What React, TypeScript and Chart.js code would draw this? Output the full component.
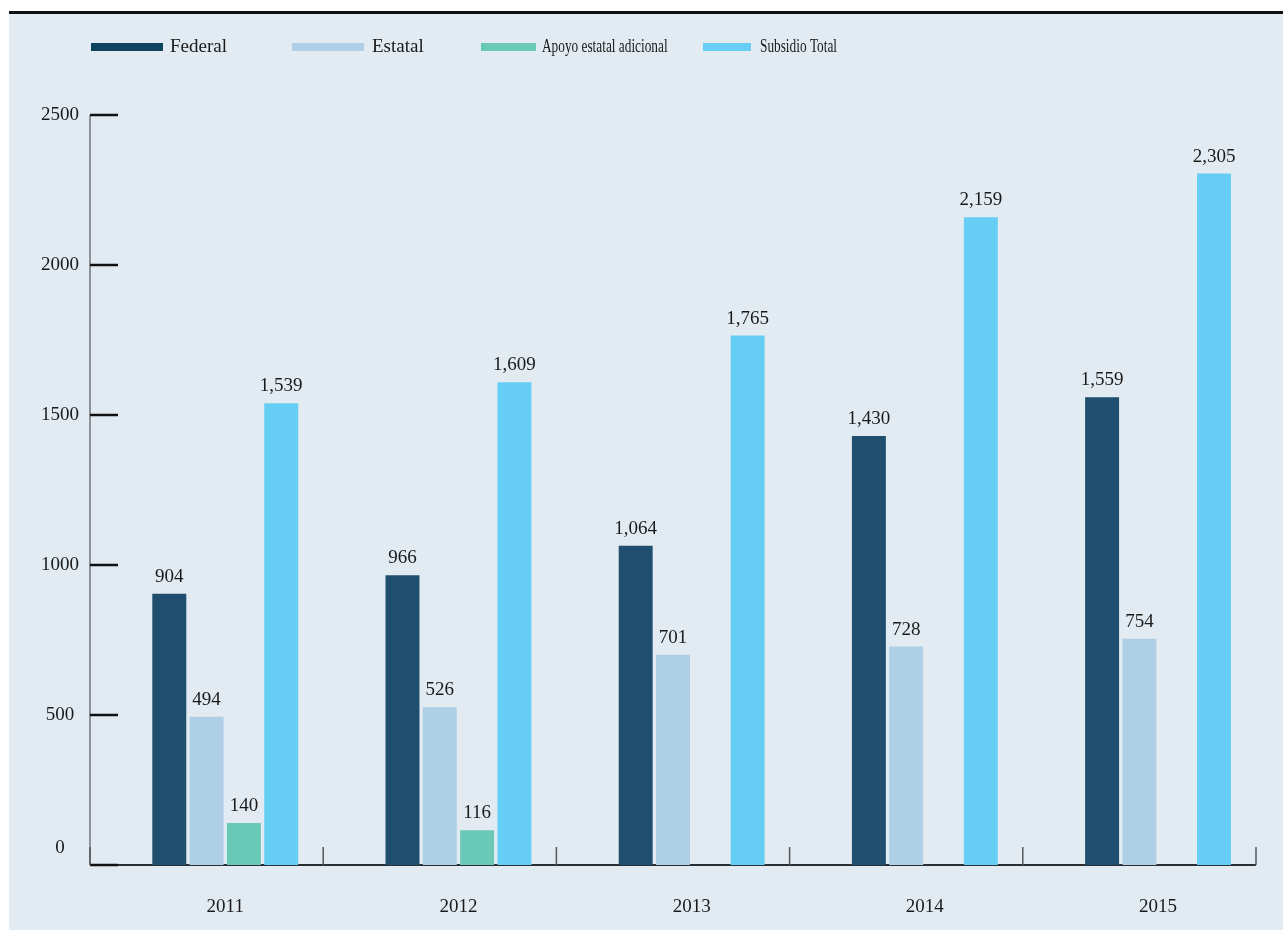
import React, { useEffect, useRef } from "react";
import { Chart, registerables } from "chart.js";

Chart.register(...registerables);

const categories = ["2011", "2012", "2013", "2014", "2015"];
const federal = [904, 966, 1064, 1430, 1559];
const estatal = [494, 526, 701, 728, 754];
const apoyo = [140, 116, null, null, null];
const subsidioTotal = [1539, 1609, 1765, 2159, 2305];
const seriesLabels = ["Federal", "Estatal", "Apoyo estatal adicional", "Subsidio Total"];
const barColors = ["#1f4e6e", "#aecfe6", "#69c8b6", "#66cef5"];
const legendColors = ["#0e4261", "#aecfe6", "#69c8b6", "#66cef5"];
const yTicks = [0, 500, 1000, 1500, 2000, 2500];

const FONT = '"Liberation Serif", "DejaVu Serif", serif';

const fmt = (v: number) => v.toLocaleString("en-US");

const drawPlugin = {
  id: "customDraw",
  beforeDraw(chart: any) {
    const { ctx, width, height } = chart;
    ctx.save();
    ctx.fillStyle = "#ffffff";
    ctx.fillRect(0, 0, width, height);
    ctx.fillStyle = "#e2ebf1";
    ctx.fillRect(9, 14, width - 9, 916);
    ctx.fillStyle = "#111111";
    ctx.fillRect(9, 11, width - 9, 3);
    ctx.restore();
  },
  beforeDatasetsDraw(chart: any) {
    const { ctx, chartArea } = chart;
    const y = chart.scales.y;
    const x = chart.scales.x;
    ctx.save();
    // y axis line
    ctx.strokeStyle = "#6f7478";
    ctx.lineWidth = 1.5;
    ctx.beginPath();
    ctx.moveTo(chartArea.left, y.getPixelForValue(2500));
    ctx.lineTo(chartArea.left, chartArea.bottom);
    ctx.stroke();
    // x axis line
    ctx.strokeStyle = "#2b2f33";
    ctx.lineWidth = 2;
    ctx.beginPath();
    ctx.moveTo(chartArea.left, chartArea.bottom);
    ctx.lineTo(chartArea.right, chartArea.bottom);
    ctx.stroke();
    // y ticks (inside)
    ctx.strokeStyle = "#111111";
    ctx.lineWidth = 2.5;
    yTicks.forEach((t) => {
      const py = y.getPixelForValue(t);
      ctx.beginPath();
      ctx.moveTo(chartArea.left, py);
      ctx.lineTo(chartArea.left + 28, py);
      ctx.stroke();
    });
    // category boundary ticks
    ctx.strokeStyle = "#55595c";
    ctx.lineWidth = 1.5;
    const step = (chartArea.right - chartArea.left) / categories.length;
    for (let i = 0; i <= categories.length; i++) {
      const px = chartArea.left + step * i;
      ctx.beginPath();
      ctx.moveTo(px, chartArea.bottom - 18);
      ctx.lineTo(px, chartArea.bottom);
      ctx.stroke();
    }
    ctx.restore();
  },
  afterDatasetsDraw(chart: any) {
    const { ctx, chartArea } = chart;
    const y = chart.scales.y;
    ctx.save();
    ctx.fillStyle = "#1a1a1a";
    ctx.font = `19px ${FONT}`;
    ctx.textAlign = "center";
    ctx.textBaseline = "alphabetic";
    // data labels
    chart.data.datasets.forEach((ds: any, di: number) => {
      if (!ds.label) return;
      const meta = chart.getDatasetMeta(di);
      meta.data.forEach((bar: any, i: number) => {
        const v = ds.data[i];
        if (v == null) return;
        ctx.fillText(fmt(v), bar.x, bar.y - 12);
      });
    });
    // category labels at group centre
    categories.forEach((c, i) => {
      const xs: number[] = [];
      chart.data.datasets.forEach((ds: any, di: number) => {
        if (!ds.label) return;
        xs.push(chart.getDatasetMeta(di).data[i].x);
      });
      const cx = (Math.min(...xs) + Math.max(...xs)) / 2;
      ctx.fillText(c, cx, 912);
    });
    // y labels
    yTicks.forEach((t) => {
      let py = y.getPixelForValue(t);
      if (t === 0) py -= 17;
      ctx.textBaseline = "middle";
      ctx.fillText(String(t), 60, py);
    });
    // legend
    const swX = [91, 292, 481, 703];
    const swW = [72, 72, 55, 48];
    const txX = [170, 372, 542, 760];
    const txScale = [1, 1, 0.7, 0.7];
    ctx.textAlign = "left";
    ctx.textBaseline = "alphabetic";
    seriesLabels.forEach((lab, i) => {
      ctx.fillStyle = legendColors[i];
      ctx.fillRect(swX[i], 43, swW[i], 8);
      ctx.fillStyle = "#1a1a1a";
      ctx.save();
      ctx.translate(txX[i], 52);
      ctx.scale(txScale[i], 1);
      ctx.fillText(lab, 0, 0);
      ctx.restore();
    });
    ctx.restore();
  },
};

export default function App() {
  const ref = useRef<HTMLCanvasElement>(null);
  useEffect(() => {
    document.body.style.margin = "0";
    const canvas = ref.current!;
    const datasets = [
      { label: "", data: [null, null, null, null, null], backgroundColor: "transparent" },
      { label: seriesLabels[0], data: federal, backgroundColor: barColors[0] },
      { label: seriesLabels[1], data: estatal, backgroundColor: barColors[1] },
      { label: seriesLabels[2], data: apoyo, backgroundColor: barColors[2] },
      { label: seriesLabels[3], data: subsidioTotal, backgroundColor: barColors[3] },
    ].map((d) => ({ ...d, categoryPercentage: 0.8, barPercentage: 0.91, borderWidth: 0 }));
    const chart = new Chart(canvas, {
      type: "bar",
      data: { labels: categories, datasets: datasets as any },
      options: {
        animation: false,
        responsive: false,
        maintainAspectRatio: false,
        layout: { padding: { left: 90, right: 27, top: 115, bottom: 66 } },
        plugins: { legend: { display: false }, tooltip: { enabled: false } },
        scales: {
          x: { display: false },
          y: { display: false, min: 0, max: 2500 },
        },
      },
      plugins: [drawPlugin],
    });
    return () => chart.destroy();
  }, []);
  return <canvas ref={ref} width={1283} height={931} style={{ display: "block" }} />;
}
